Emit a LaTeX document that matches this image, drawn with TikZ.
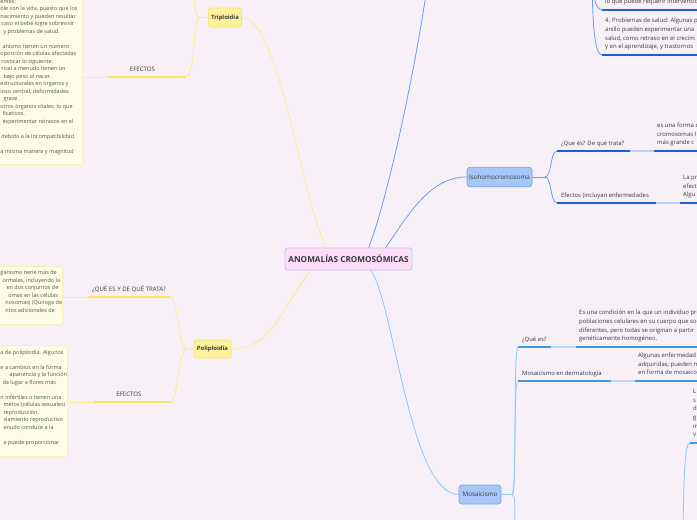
\documentclass[tikz,border=0pt]{standalone}
\usepackage{fontspec}
\setmainfont{Open Sans}

\definecolor{pagebg}{HTML}{F7F0F7}
\definecolor{rootfill}{HTML}{FCDDF9}
\definecolor{rootline}{HTML}{CDBBE8}
\definecolor{yelfill}{HTML}{FFF29C}
\definecolor{yelline}{HTML}{F6E27E}
\definecolor{yelwire}{HTML}{FBEA98}
\definecolor{yelbar}{HTML}{FFE359}
\definecolor{notefill}{HTML}{FFFDE8}
\definecolor{noteline}{HTML}{F8EDA8}
\definecolor{noteink}{HTML}{4A5C4C}
\definecolor{bluefill}{HTML}{A6C7F8}
\definecolor{blueline}{HTML}{78A4EC}
\definecolor{isowire}{HTML}{6E9CEA}
\definecolor{isobar}{HTML}{1F5FD2}
\definecolor{isolight}{HTML}{BAD2F5}
\definecolor{mosawire}{HTML}{92C7F0}
\definecolor{mosabar}{HTML}{3D9BE6}
\definecolor{mosalight}{HTML}{B6DAF5}
\definecolor{inktext}{HTML}{3A3A3A}

\tikzset{
  root/.style={draw=rootline, fill=rootfill, line width=0.8pt, rounded corners=2.5pt,
    minimum width=125pt, minimum height=22pt, font=\fontsize{8.2}{9}\selectfont\bfseries, text=inktext},
  yeltopic/.style={draw=yelline, fill=yelfill, line width=0.8pt, rounded corners=3pt,
    minimum height=19pt, inner xsep=2pt, font=\fontsize{5.9}{7}\selectfont\bfseries, text=inktext},
  bluetopic/.style={draw=blueline, fill=bluefill, line width=0.8pt, rounded corners=3pt,
    minimum height=19.5pt, inner xsep=2pt, font=\fontsize{6.3}{7}\selectfont, text=inktext},
  notebox/.style={draw=noteline, fill=notefill, line width=0.7pt, rounded corners=3pt},
  notelines/.style={anchor=north west, inner sep=0pt, align=left, text=noteink,
    font=\fontsize{5.5}{7.5}\selectfont, execute at begin node=\strut},
  caplabel/.style={anchor=south, inner xsep=0pt, inner ysep=4.2pt, text depth=1.4pt,
    font=\fontsize{6.1}{7}\selectfont, text=inktext},
  sublabel/.style={anchor=south west, inner xsep=4pt, inner ysep=4.4pt, text depth=1.4pt,
    font=\fontsize{5.9}{7}\selectfont, text=inktext},
  para/.style={anchor=south west, inner xsep=3pt, inner ysep=3.2pt, align=left, text=inktext,
    font=\fontsize{5.95}{8.7}\selectfont, execute at begin node=\strut, execute at end node=\strut},
  yelthin/.style={draw=yelwire, line width=0.8pt},
  yelthick/.style={draw=yelbar, line width=1.8pt},
  isothin/.style={draw=isowire, line width=0.8pt},
  isothick/.style={draw=isobar, line width=1.5pt},
  isolink/.style={draw=isolight, line width=1.5pt},
  mosathin/.style={draw=mosawire, line width=0.8pt},
  mosathick/.style={draw=mosabar, line width=1.5pt},
  mosalink/.style={draw=mosalight, line width=1.5pt}
}

\begin{document}
\begin{tikzpicture}[x=1pt,y=-1pt]
\useasboundingbox (0,0) rectangle (697,520);
\clip (0,0) rectangle (697,520);
\fill[pagebg] (0,0) rectangle (697,520);

% central topic
\node[root] (anom) at (348.5,259) {ANOMALÍAS CROMOSÓMICAS};

% left branch: Triploidia
\node[yeltopic, minimum width=33pt] (trip) at (225,17.5) {Triploidía};
\node[notebox, anchor=south east, minimum width=100pt, minimum height=180pt] (trinote) at (83,165) {};
\node[notelines] (trinotetext) at (0.3,-0.5) {entes:\\
ole con la vida, puesto que los\\
nacimiento y pueden resultar\\
\hspace*{1pt}caso el bebé logre sobrevivir\\
\hspace*{3pt}y problemas de salud.\\
\mbox{}\\
\hspace*{2pt}anismo tienen un número\\
oporción de células afectadas\\
\hspace*{1pt}rovocar lo siguiente:\\
\hspace*{1pt}rcial a menudo tienen un\\
\hspace*{3pt}bajo peso al nacer.\\
estructurales en órganos y\\
ioso central, deformidades\\
\hspace*{3pt}grave.\\
otros órganos vitales, lo que\\
\hspace*{2pt}ficativos.\\
\hspace*{2pt}experimentar retrasos en el\\
\mbox{}\\
\hspace*{1pt}debido a la incompatibilidad\\
\mbox{}\\
a misma manera y magnitud};
\node[caplabel, minimum width=77pt] (trieff) at (146.5,77) {EFECTOS\hspace*{8pt}};
\coordinate (tripfork) at (200,17.5);
\coordinate (tripup) at (193,-25);
\draw[yelthin] (trip.west) -- (tripfork);
\draw[yelthin] (tripfork) .. controls +(-8,0) and +(2,12) .. (tripup);
\draw[yelthin] (tripfork) .. controls +(-8,0) and +(11,0) .. (trieff.south east);
\draw[yelthin] (trieff.south west) -- (trieff.south west -| trinote.east);
\draw[yelthick] (trieff.south west) -- (trieff.south east);

% left branch: Poliploidia
\node[yeltopic, minimum width=37pt, minimum height=18pt] (poly) at (212.5,349) {Poliploidía};
\node[notebox, anchor=south east, minimum width=80pt, minimum height=58pt] (quenote) at (63,325) {};
\node[notelines] (quenotetext) at (0.3,270.5) {ganismo tiene más de\\
\hspace*{2pt}ormales, incluyendo la\\
\hspace*{6pt}en dos conjuntos de\\
\hspace*{8pt}omas en las células\\
\hspace*{5pt}nosomas) (Quiroga de\\
\hspace*{5pt}ntos adicionales de};
\node[notebox, anchor=south east, minimum width=85pt, minimum height=111pt] (efenote) at (68,457) {};
\node[notelines] (efenotetext) at (0.3,349.7) {a de poliploidía. Algunos\\
\mbox{}\\
e a cambios en la forma\\
\hspace*{9pt}apariencia y la función\\
\hspace*{2pt}da lugar a flores más\\
\mbox{}\\
n infértiles o tienen una\\
\hspace*{3pt}metos (células sexuales)\\
\hspace*{3pt}reproducción.\\
\hspace*{3pt}slamiento reproductivo\\
\hspace*{3pt}enudo conduce a la\\
\mbox{}\\
\hspace*{3pt}a puede proporcionar};
\node[caplabel, minimum width=82pt] (polyque) at (129,297) {¿QUÉ ES Y DE QUÉ TRATA?};
\node[caplabel, minimum width=76pt] (polyeff) at (132,402) {EFECTOS\hspace*{6pt}};
\coordinate (polyfork) at (187,349);
\draw[yelthin] (poly.west) -- (polyfork);
\draw[yelthin] (polyfork) .. controls +(-9,0) and +(8,0) .. (polyque.south east);
\draw[yelthin] (polyfork) .. controls +(-9,0) and +(8,0) .. (polyeff.south east);
\draw[yelthin] (polyque.south west) -- (polyque.south west -| quenote.east);
\draw[yelthin] (polyeff.south west) -- (polyeff.south west -| efenote.east);
\draw[yelthick] (polyque.south west) -- (polyque.south east);
\draw[yelthick] (polyeff.south west) -- (polyeff.south east);

% root to yellow topics
\draw[yelthin] (trip.east) .. controls +(38,0) and +(-23,-38) .. ([xshift=42pt]anom.north west);
\draw[yelthin] ([xshift=27pt]anom.south west) .. controls +(-28,30) and +(44,0) .. (poly.east);

% right branch: ring chromosome (off the top)
\coordinate (ringup) at (427,-12);
\draw[isothin] ([xshift=84pt]anom.north west) .. controls +(15,-38) and +(-17,112) .. (ringup);
\coordinate (ringfork) at (592,-40);
\node[para] (ringone) at (602,10) {lo que puede requerir intervención};
\node[para] (ringtwo) at (602,55) {4. Problemas de salud: Algunas p\\
anillo pueden experimentar una\\
salud, como retraso en el crecim\\
y en el aprendizaje, y trastornos};
\draw[isothin] (ringfork) .. controls +(0,30) and +(-8,0) .. (ringone.south west);
\draw[isothin] (ringfork) .. controls +(0,60) and +(-8,0) .. (ringtwo.south west);
\draw[isothick] (ringone.south west) -- ++(100,0);
\draw[isothick] (ringtwo.south west) -- ++(100,0);

% right branch: Isohomocromosoma
\node[bluetopic, minimum width=65pt] (iso) at (499.5,177) {Isohomocromosoma};
\draw[isothin] ([xshift=101pt]anom.north west) .. controls +(23,-33) and +(-37,0) .. (iso.west);
\coordinate (isofork) at (545,177);
\node[sublabel] (isoque) at (557,151) {¿Que és? De qué trata?};
\node[sublabel] (isoeff) at (557,203) {Efectos (incluyan enfermedades};
\node[para] (isoqtext) at (654,151) {es una forma d\\cromosomas l\\más grande c};
\node[para] (isoetext) at (680,203) {La pr\\efect\\Algu};
\draw[isothin] (iso.east) -- (isofork);
\draw[isothin] (isofork) .. controls +(7,0) and +(-7,0) .. (isoque.south west);
\draw[isothin] (isofork) .. controls +(7,0) and +(-7,0) .. (isoeff.south west);
\draw[isothick] (isoque.south west) -- ++(73,0) coordinate (isoqend);
\draw[isothick] (isoeff.south west) -- ++(99,0) coordinate (isoeend);
\draw[isolink] (isoqend) -- (isoqtext.south west);
\draw[isolink] (isoeend) -- (isoetext.south west);
\draw[isothick] (isoqtext.south west) -- ++(60,0);
\draw[isothick] (isoetext.south west) -- ++(30,0);

% right branch: Mosaicismo
\node[bluetopic, minimum width=42pt, minimum height=19pt] (mosa) at (480,494.5) {Mosaicismo};
\draw[mosathin] ([xshift=86pt]anom.south west) .. controls +(23,30) and +(-49,0) .. (mosa.west);
\coordinate (mosafork) at (512,494.5);
\coordinate (mosadown) at (514,545);
\node[sublabel] (mosaque) at (518,347) {¿Qué es?};
\node[sublabel] (mosader) at (518,381) {Mosaicismo en dermatología};
\node[para] (mosaqtext) at (576,347) {Es una condición en la que un individuo pre\\
poblaciones celulares en su cuerpo que so\\
diferentes, pero todas se originan a partir\\
genéticamente homogéneo.};
\node[para] (mosadtext) at (635,381) {Algunas enfermedad\\adquiridas, pueden m\\en forma de mosaico};
\node[para] (mosalast) at (690,443) {L\\s\\d\\g\\m\\v};
\coordinate (mosasub) at (683,530);
\draw[mosathin] (mosa.east) -- (mosafork);
\draw[mosathin] (mosafork) .. controls +(5,0) and +(-5,0) .. (mosaque.south west);
\draw[mosathin] (mosafork) .. controls +(5,0) and +(-5,0) .. (mosader.south west);
\draw[mosathin] (mosafork) .. controls +(5,0) and +(0,-20) .. (mosadown);
\draw[mosathick] (mosaque.south west) -- ++(33,0) coordinate (mosaqend);
\draw[mosathick] (mosader.south west) -- ++(93,0) coordinate (mosadend);
\draw[mosalink] (mosaqend) -- (mosaqtext.south west);
\draw[mosalink] (mosadend) -- (mosadtext.south west);
\draw[mosathick] (mosaqtext.south west) -- ++(130,0);
\draw[mosathick] (mosadtext.south west) -- ++(70,0);
\draw[mosathick] (mosalast.south west) -- ++(20,0);
\draw[mosathin] (mosasub) .. controls +(1,-60) and +(-5,0) .. (mosalast.south west);
\end{tikzpicture}
\end{document}
